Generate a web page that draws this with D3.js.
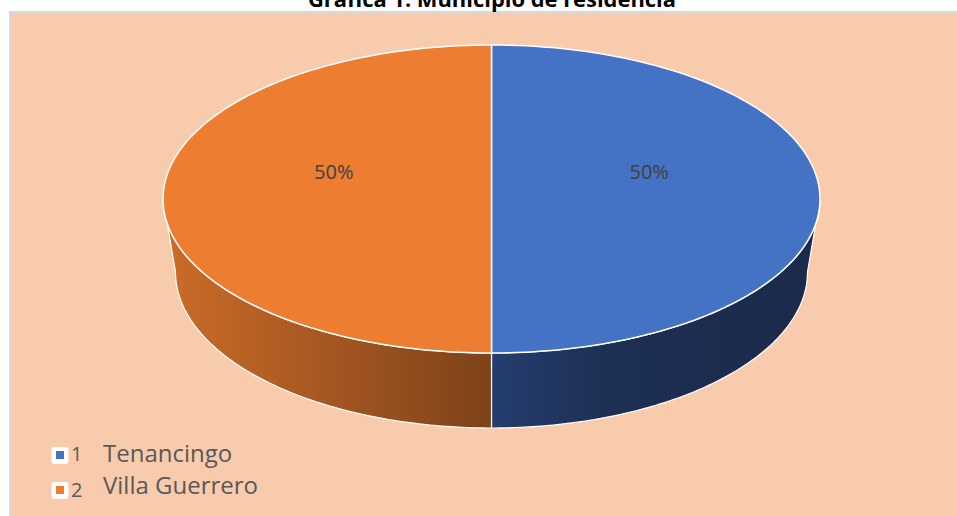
<!DOCTYPE html>
<html>
<head>
<meta charset="utf-8">
<script src="https://cdn.jsdelivr.net/npm/d3@7"></script>
<style>
  html, body { margin: 0; padding: 0; background: #ffffff; }
  svg { display: block; }
</style>
</head>
<body>
<div id="chart"></div>
<script>
// ---- data ----
const title = "Gráfica 1. Municipio de residencia";
const categories = ["Tenancingo", "Villa Guerrero"];
const legendIds = ["1", "2"];
const values = [50, 50];
const topColors = ["#4472C4", "#ED7D31"];
const sideStops = [
  [["0%", "#253E70"], ["35%", "#1D2F54"], ["100%", "#1A2A4A"]],
  [["0%", "#CC6C29"], ["100%", "#7E4219"]]
];

// ---- layout ----
const W = 957, H = 516;
const font = "'Open Sans', sans-serif";
const top3d = { cx: 491.5, cy: 199, rx: 328.5, ry: 154 };
const bot3d = { cx: 491.5, cy: 272, rx: 316, ry: 156 };

const svg = d3.select("#chart").append("svg")
  .attr("width", W).attr("height", H);

// chart area background
svg.append("rect")
  .attr("x", 10).attr("y", 12)
  .attr("width", W + 20).attr("height", H + 20)
  .attr("fill", "#F8CBAD")
  .attr("stroke", "#D9D9D9").attr("stroke-width", 2);

// title (partially clipped at top, as in reference)
svg.append("text")
  .attr("x", 492).attr("y", 7)
  .attr("text-anchor", "middle")
  .attr("font-family", font)
  .attr("font-weight", "bold")
  .attr("font-size", 21)
  .attr("textLength", 368)
  .attr("lengthAdjust", "spacingAndGlyphs")
  .attr("fill", "#000")
  .text(title);

const total = d3.sum(values);
const pie = d3.pie().sort(null).startAngle(0).endAngle(2 * Math.PI);
const arcs = pie(values);

function pt(e, a) {
  return [e.cx + e.rx * Math.sin(a), e.cy - e.ry * Math.cos(a)];
}
function arcPts(e, a0, a1, n = 120) {
  const s = d3.scaleLinear().domain([0, n]).range([a0, a1]);
  return d3.range(n + 1).map(i => pt(e, s(i)));
}

const defs = svg.append("defs");
const line = d3.line();

// sides (front part: angles between PI/2 and 3PI/2)
const gSide = svg.append("g");
arcs.forEach((a, i) => {
  const a0 = Math.max(a.startAngle, Math.PI / 2);
  const a1 = Math.min(a.endAngle, 3 * Math.PI / 2);
  if (a1 <= a0) return;
  const pts = arcPts(top3d, a0, a1).concat(arcPts(bot3d, a1, a0));
  const ext = d3.extent(pts, p => p[0]);
  const g = defs.append("linearGradient")
    .attr("id", "side" + i)
    .attr("gradientUnits", "userSpaceOnUse")
    .attr("x1", ext[0]).attr("x2", ext[1])
    .attr("y1", 0).attr("y2", 0);
  sideStops[i].forEach(s => g.append("stop").attr("offset", s[0]).attr("stop-color", s[1]));
  gSide.append("path")
    .attr("d", line(pts) + "Z")
    .attr("fill", `url(#side${i})`)
    .attr("stroke", "#FFFFFF")
    .attr("stroke-width", 1.2)
    .attr("stroke-linejoin", "round");
});

// top faces
const gTop = svg.append("g");
arcs.forEach((a, i) => {
  const pts = [[top3d.cx, top3d.cy]].concat(arcPts(top3d, a.startAngle, a.endAngle));
  gTop.append("path")
    .attr("d", line(pts) + "Z")
    .attr("fill", topColors[i])
    .attr("stroke", "#FFFFFF")
    .attr("stroke-width", 1.5)
    .attr("stroke-linejoin", "round");
});

// data labels
arcs.forEach((a, i) => {
  const mid = (a.startAngle + a.endAngle) / 2;
  const x = top3d.cx + 0.48 * top3d.rx * Math.sin(mid);
  const y = top3d.cy - 0.48 * top3d.ry * Math.cos(mid) - 28;
  svg.append("text")
    .attr("x", x).attr("y", y)
    .attr("text-anchor", "middle")
    .attr("dominant-baseline", "central")
    .attr("font-family", font)
    .attr("font-size", 20)
    .attr("fill", "#404040")
    .text(d3.format(".0%")(a.data / total));
});

// legend
const legY = d3.scaleOrdinal().domain(categories).range([462, 494]);
const gLeg = svg.append("g");
categories.forEach((c, i) => {
  const base = legY(c);
  gLeg.append("rect")
    .attr("x", 51.5).attr("y", base - 15 + i * 3)
    .attr("width", 17).attr("height", 17)
    .attr("rx", 3)
    .attr("fill", "#FFFFFF");
  gLeg.append("rect")
    .attr("x", 56).attr("y", base - 11 + i * 3)
    .attr("width", 8).attr("height", 8)
    .attr("fill", topColors[i]);
  gLeg.append("text")
    .attr("x", 71).attr("y", base - 1 + i * 4)
    .attr("font-family", font)
    .attr("font-size", 20)
    .attr("fill", "#595959")
    .text(legendIds[i]);
  gLeg.append("text")
    .attr("x", 103).attr("y", base)
    .attr("font-family", font)
    .attr("font-size", 24)
    .attr("fill", "#595959")
    .text(c);
});
</script>
</body>
</html>
